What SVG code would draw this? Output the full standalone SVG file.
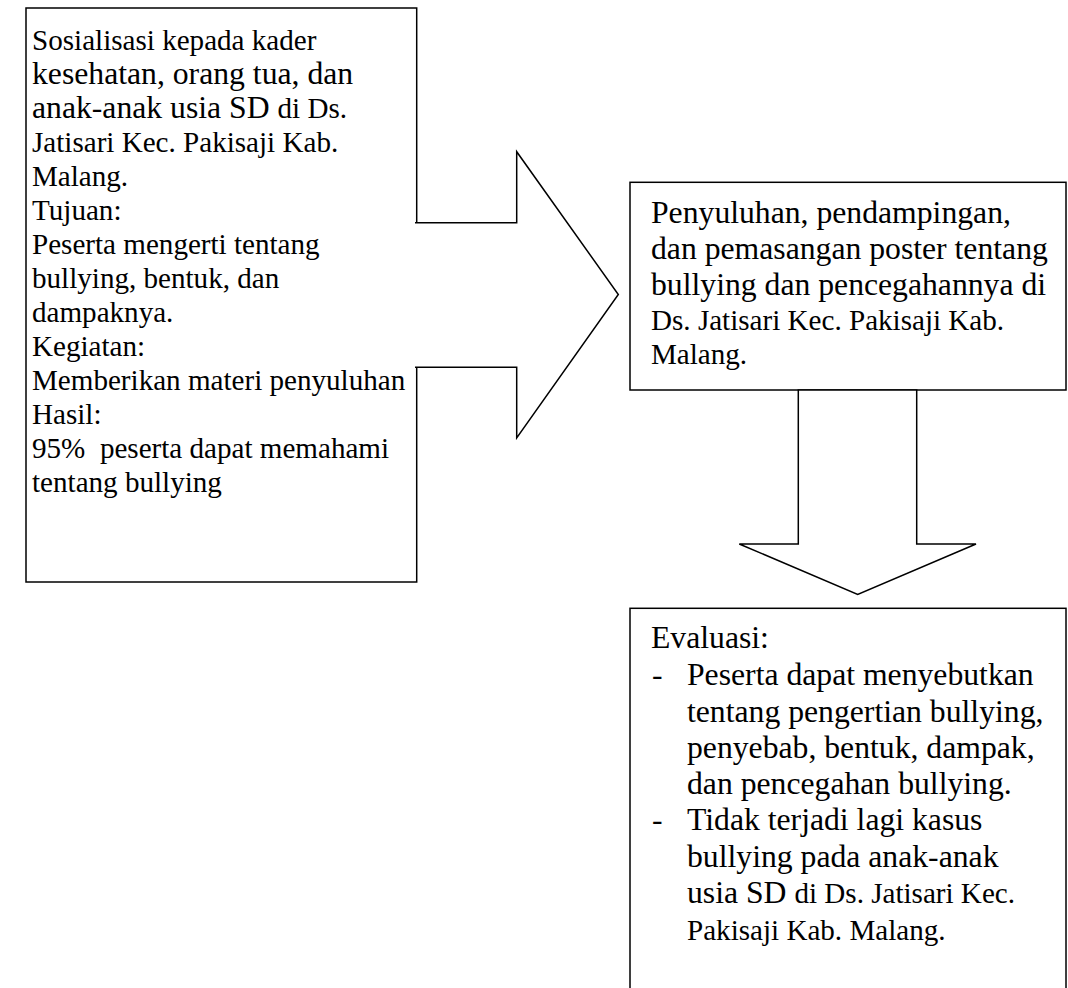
<svg xmlns="http://www.w3.org/2000/svg" width="1068" height="988" viewBox="0 0 1068 988">
<style>
.box{fill:#fff;stroke:#000;stroke-width:1.5}
.ln{fill:none;stroke:#000;stroke-width:1.5;stroke-linejoin:miter}
.bg{fill:#fff;stroke:none}
text{font-family:"Liberation Serif","Times New Roman",serif;fill:#000}
.L{font-size:31.7px}
.S{font-size:29.1px}
</style>
<rect width="1068" height="988" fill="#fff"/>
<g id="node-sosialisasi">
<rect class="box" x="26" y="8" width="390.7" height="574"/>
<text x="32" y="50" class="S">Sosialisasi kepada kader</text>
<text x="32" y="84" class="L">kesehatan, orang tua, dan</text>
<text x="32" y="118" class="L">anak-anak usia SD <tspan class="S">di Ds.</tspan></text>
<text x="32" y="152" class="S">Jatisari Kec. Pakisaji Kab.</text>
<text x="32" y="186" class="S">Malang.</text>
<text x="32" y="220" class="S">Tujuan:</text>
<text x="32" y="254" class="S">Peserta mengerti tentang</text>
<text x="32" y="288" class="S">bullying, bentuk, dan</text>
<text x="32" y="322" class="S">dampaknya.</text>
<text x="32" y="356" class="S">Kegiatan:</text>
<text x="32" y="390" class="S">Memberikan materi penyuluhan</text>
<text x="32" y="424" class="S">Hasil:</text>
<text x="32" y="458" class="S" xml:space="preserve">95%  peserta dapat memahami</text>
<text x="32" y="492" class="S">tentang bullying</text>
</g>
<g id="node-penyuluhan">
<rect class="box" x="630" y="182.3" width="436" height="207.7"/>
<text x="651" y="223" class="L">Penyuluhan, pendampingan,</text>
<text x="651" y="259" class="L">dan pemasangan poster tentang</text>
<text x="651" y="295" class="L">bullying dan pencegahannya di</text>
<text x="651" y="330" class="S">Ds. Jatisari Kec. Pakisaji Kab.</text>
<text x="651" y="364" class="S">Malang.</text>
</g>
<g id="node-evaluasi">
<rect class="box" x="630" y="608.3" width="436" height="400"/>
<text x="651" y="648" class="L">Evaluasi:</text>
<text x="652" y="685" class="L">-</text>
<text x="687" y="685" class="L">Peserta dapat menyebutkan</text>
<text x="687" y="722" class="L">tentang pengertian bullying,</text>
<text x="687" y="758" class="L">penyebab, bentuk, dampak,</text>
<text x="687" y="794" class="L">dan pencegahan bullying.</text>
<text x="652" y="830" class="L">-</text>
<text x="687" y="830" class="L">Tidak terjadi lagi kasus</text>
<text x="687" y="867" class="L">bullying pada anak-anak</text>
<text x="687" y="903" class="L">usia SD <tspan class="S">di Ds. Jatisari Kec.</tspan></text>
<text x="687" y="940" class="S">Pakisaji Kab. Malang.</text>
</g>
<g id="connectors">
<polygon class="bg" points="415,222.7 516.7,222.7 516.7,151.7 618.3,294.5 516.7,438 516.7,367.3 415,367.3"/>
<polyline class="ln" points="415,222.7 516.7,222.7 516.7,151.7 618.3,294.5 516.7,438 516.7,367.3 415,367.3"/>
<polygon class="box" points="798.3,390 798.3,544 739.3,544 857.7,594.5 976,544 916.7,544 916.7,390"/>
</g>
</svg>
